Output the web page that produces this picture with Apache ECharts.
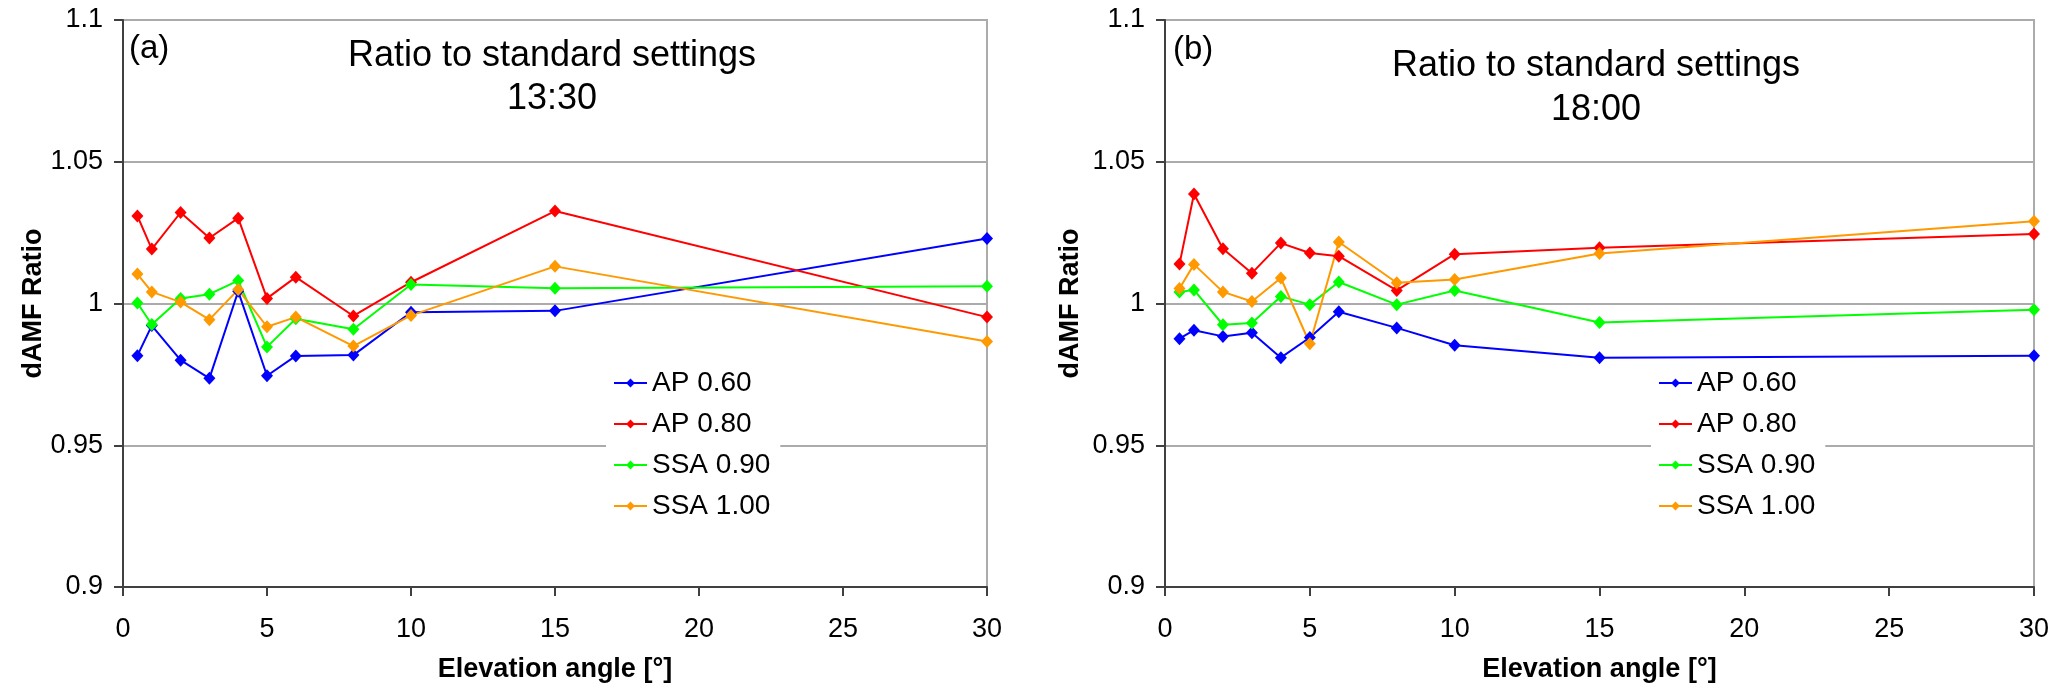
<!DOCTYPE html>
<html>
<head>
<meta charset="utf-8">
<script src="https://cdn.jsdelivr.net/npm/echarts@6/dist/echarts.min.js"></script>
<style>
html,body{margin:0;padding:0;background:#fff;}
#chart{width:2067px;height:694px;}
</style>
</head>
<body>
<div id="chart"></div>
<script>
// ---- data ----
const elevation = [0.5, 1, 2, 3, 4, 5, 6, 8, 10, 15, 30];
const seriesNames = ['AP 0.60', 'AP 0.80', 'SSA 0.90', 'SSA 1.00'];
const xTicks = [0, 5, 10, 15, 20, 25, 30];
const yTicks = [0.9, 0.95, 1, 1.05, 1.1];

// panel (a) 13:30
const a_ap060  = [0.9816, 0.9922, 0.9800, 0.9736, 1.0043, 0.9745, 0.9815, 0.9818, 0.9969, 0.9974, 1.0229];
const a_ap080  = [1.0309, 1.0192, 1.0321, 1.0231, 1.0301, 1.0018, 1.0093, 0.9956, 1.0075, 1.0326, 0.9952];
const a_ssa090 = [1.0002, 0.9926, 1.0018, 1.0033, 1.0081, 0.9847, 0.9946, 0.9909, 1.0067, 1.0054, 1.0061];
const a_ssa100 = [1.0104, 1.0041, 1.0005, 0.9943, 1.0049, 0.9918, 0.9952, 0.9850, 0.9958, 1.0131, 0.9866];
// panel (b) 18:00
const b_ap060  = [0.9876, 0.9906, 0.9884, 0.9897, 0.9809, 0.9880, 0.9971, 0.9914, 0.9853, 0.9809, 0.9816];
const b_ap080  = [1.0139, 1.0386, 1.0193, 1.0107, 1.0213, 1.0178, 1.0167, 1.0046, 1.0174, 1.0197, 1.0245];
const b_ssa090 = [1.0041, 1.0048, 0.9925, 0.9931, 1.0025, 0.9996, 1.0076, 0.9996, 1.0046, 0.9933, 0.9978];
const b_ssa100 = [1.0053, 1.0138, 1.0041, 1.0007, 1.0090, 0.9858, 1.0217, 1.0073, 1.0085, 1.0176, 1.0290];

const colors = ['#0000FF', '#FF0000', '#00FF00', '#FF9900'];
const FONT = '"Liberation Sans", Arial, Helvetica, sans-serif';

function pairs(ys){ return elevation.map((x,i)=>[x, ys[i]]); }

const panelA = [a_ap060, a_ap080, a_ssa090, a_ssa100];
const panelB = [b_ap060, b_ap080, b_ssa090, b_ssa100];

function makeX(gridIndex){
  return {
    type:'value', gridIndex, min:xTicks[0], max:xTicks[xTicks.length-1], interval:5,
    name:'Elevation angle [°]', nameLocation:'middle', nameGap:69,
    nameTextStyle:{fontFamily:FONT, fontSize:27, fontWeight:'bold', color:'#000'},
    axisLine:{show:true, onZero:false, lineStyle:{color:'#404040', width:2}},
    axisTick:{show:true, inside:false, length:9, lineStyle:{color:'#404040', width:2}},
    axisLabel:{fontFamily:FONT, fontSize:27, color:'#000', margin:29},
    splitLine:{show:false}
  };
}
function makeY(gridIndex, gap){
  return {
    type:'value', gridIndex, min:0.9, max:1.1, interval:0.05,
    name:'dAMF Ratio', nameLocation:'middle', nameGap:gap,
    nameTextStyle:{fontFamily:FONT, fontSize:27, fontWeight:'bold', color:'#000'},
    axisLine:{show:true, onZero:false, lineStyle:{color:'#404040', width:2}},
    axisTick:{show:true, inside:false, length:9, lineStyle:{color:'#404040', width:2}},
    axisLabel:{fontFamily:FONT, fontSize:27, color:'#000', margin:20,
      formatter:v=>String(parseFloat(v.toFixed(2)))},
    splitLine:{show:true, lineStyle:{color:'#ABABAB', width:2}}
  };
}
function makeSeries(data, idx){
  return data.map((ys,i)=>({
    name:seriesNames[i], type:'line', xAxisIndex:idx, yAxisIndex:idx,
    data:pairs(ys), symbol:'diamond', symbolSize:[12,13],
    showAllSymbol:true, animation:false,
    lineStyle:{color:colors[i], width:2},
    itemStyle:{color:colors[i]}
  }));
}
function makeLegend(left){
  return {
    orient:'vertical', left:left, top:364, data:seriesNames,
    backgroundColor:'#fff', padding:[5,10,5,7],
    itemWidth:33, itemHeight:11, itemGap:13,
    textStyle:{fontFamily:FONT, fontSize:28, color:'#000', lineHeight:28},
    selectedMode:false
  };
}

const chart = echarts.init(document.getElementById('chart'), null, {renderer:'canvas'});
chart.setOption({
  animation:false,
  backgroundColor:'#fff',
  grid:[
    {left:123, right:1080, top:20, bottom:107, show:true, borderColor:'#ABABAB', borderWidth:2, backgroundColor:'transparent'},
    {left:1165, right:33, top:20, bottom:107, show:true, borderColor:'#ABABAB', borderWidth:2, backgroundColor:'transparent'}
  ],
  xAxis:[makeX(0), makeX(1)],
  yAxis:[makeY(0, 72), makeY(1, 81)],
  legend:[makeLegend(606), makeLegend(1651)],
  series:[...makeSeries(panelA,0), ...makeSeries(panelB,1)],
  graphic:[
    {type:'text', x:129, y:49, z:10, style:{text:'(a)', fontFamily:FONT, fontSize:33, fill:'#000', textAlign:'left', textVerticalAlign:'middle'}},
    {type:'text', x:1173, y:50, z:10, style:{text:'(b)', fontFamily:FONT, fontSize:33, fill:'#000', textAlign:'left', textVerticalAlign:'middle'}},
    {type:'text', x:552, y:35, z:10, style:{text:'Ratio to standard settings\n13:30', fontFamily:FONT, fontSize:36, lineHeight:43, fill:'#000', textAlign:'center', textVerticalAlign:'top'}},
    {type:'text', x:1596, y:44, z:10, style:{text:'Ratio to standard settings\n18:00', fontFamily:FONT, fontSize:36, lineHeight:44, fill:'#000', textAlign:'center', textVerticalAlign:'top'}}
  ]
});
</script>
</body>
</html>
